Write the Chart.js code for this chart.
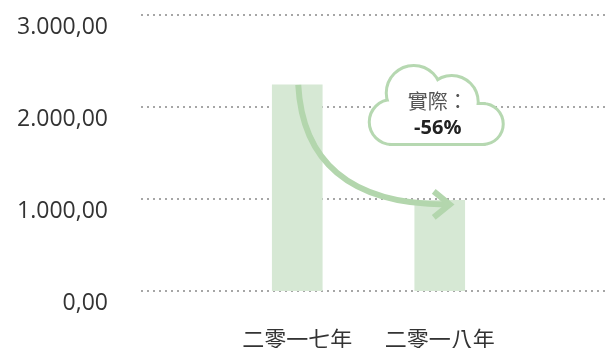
<!DOCTYPE html>
<html>
<head>
<meta charset="utf-8">
<script src="https://cdn.jsdelivr.net/npm/chart.js@4/dist/chart.umd.min.js"></script>
<style>
  html, body { margin: 0; padding: 0; background: #fff; }
  #chart { display: block; }
</style>
</head>
<body>
<canvas id="chart" width="608" height="348"></canvas>
<script>
// Data
const categories = ["二零一七年", "二零一八年"];
const values = [2240, 985];
const yTickValues = [0, 1000, 2000, 3000];
const changeTitle = "實際：";

// Styles
const BAR_COLOR = "#d6e8d4";
const ARROW_COLOR = "#b3d6ad";
const CLOUD_STROKE = "#b6d8b1";
const GRID_COLOR = "#a6a6a6";
const GRID_LEFT = 141;
const LABEL_COLOR = "#333333";

// 3000 -> "3.000,00"
function formatNumber(v) {
  const fixed = Math.abs(v).toFixed(2).split(".");
  const intPart = fixed[0].replace(/\B(?=(\d{3})+(?!\d))/g, ".");
  return (v < 0 ? "-" : "") + intPart + "," + fixed[1];
}

const changePct = Math.round((values[1] / values[0] - 1) * 100);
const changeText = (changePct > 0 ? "+" : "") + changePct + "%";

const decorations = {
  id: "decorations",
  // dotted horizontal grid, running to the right edge of the canvas
  beforeDatasetsDraw(chart) {
    const ctx = chart.ctx;
    const y = chart.scales.y;
    ctx.save();
    ctx.strokeStyle = GRID_COLOR;
    ctx.lineWidth = 2;
    ctx.setLineDash([2, 4]);
    y.ticks.forEach((t) => {
      const py = Math.round(y.getPixelForValue(t.value));
      ctx.beginPath();
      ctx.moveTo(GRID_LEFT, py);
      ctx.lineTo(chart.width, py);
      ctx.stroke();
    });
    ctx.restore();
  },
  afterDatasetsDraw(chart) {
    const ctx = chart.ctx;
    const x = chart.scales.x;
    const y = chart.scales.y;

    // curved arrow from the first bar's top to the second bar's top
    const x0 = x.getPixelForValue(0) + 1;
    const y0 = y.getPixelForValue(values[0]);
    const x1 = x.getPixelForValue(1) + 10;
    const y1 = y.getPixelForValue(values[1]) + 4;
    ctx.save();
    ctx.strokeStyle = ARROW_COLOR;
    ctx.lineWidth = 6;
    ctx.beginPath();
    ctx.moveTo(x0, y0);
    ctx.bezierCurveTo(x0 + 4, y0 + 75, x0 + 50, y1, x1 - 4, y1);
    ctx.stroke();
    ctx.beginPath();
    ctx.moveTo(x1 - 16, y1 - 13);
    ctx.lineTo(x1, y1);
    ctx.lineTo(x1 - 16, y1 + 13);
    ctx.stroke();
    ctx.restore();

    // cloud callout
    const cx = x.getPixelForValue(1);
    const cy = y.getPixelForValue(2000);
    const circles = [
      [-48, 15, 21],
      [-26, -14, 26],
      [12, -5, 25],
      [43, 17, 19],
    ];
    const shape = () => {
      ctx.beginPath();
      circles.forEach(([dx, dy, r]) => {
        ctx.moveTo(cx + dx + r, cy + dy);
        ctx.arc(cx + dx, cy + dy, r, 0, Math.PI * 2);
      });
      ctx.rect(cx - 48, cy - 2, 91, 38);
    };
    ctx.save();
    ctx.strokeStyle = CLOUD_STROKE;
    ctx.lineWidth = 6;
    shape();
    ctx.stroke();
    ctx.fillStyle = "#fff";
    shape();
    ctx.fill();

    ctx.textAlign = "center";
    ctx.textBaseline = "middle";
    ctx.fillStyle = "#555";
    ctx.font = '20px "Noto Sans CJK TC"';
    ctx.fillText(changeTitle, cx - 2, cy - 6);
    ctx.fillStyle = "#222";
    ctx.font = 'bold 20px "Open Sans"';
    ctx.fillText(changeText, cx - 2, cy + 21);
    ctx.restore();
  },
};

const ctx = document.getElementById("chart");
new Chart(ctx, {
  type: "bar",
  data: {
    labels: categories,
    datasets: [
      {
        data: values,
        backgroundColor: BAR_COLOR,
        borderWidth: 0,
        barThickness: 50,
      },
    ],
  },
  options: {
    responsive: false,
    animation: false,
    events: [],
    layout: { padding: { top: 15, left: 13, right: 97, bottom: 0 } },
    plugins: {
      legend: { display: false },
      tooltip: { enabled: false },
    },
    scales: {
      x: {
        grid: { display: false, drawTicks: false },
        border: { display: false },
        ticks: {
          color: LABEL_COLOR,
          padding: 34,
          font: { family: '"Noto Sans CJK TC"', size: 22 },
        },
        afterFit(scale) {
          scale.height = 57;
        },
      },
      y: {
        min: 0,
        max: 3000,
        grid: { display: false, drawTicks: false },
        border: { display: false },
        afterBuildTicks(scale) {
          scale.ticks = yTickValues.map((v) => ({ value: v }));
        },
        ticks: {
          color: LABEL_COLOR,
          padding: 118,
          labelOffset: 12,
          font: { family: '"Open Sans"', size: 23 },
          callback: (v) => formatNumber(v),
        },
        afterFit(scale) {
          // wide gap between labels and plot; keep it out of the vertical padding
          scale.width = 213;
          scale.paddingTop = 0;
          scale.paddingBottom = 0;
        },
      },
    },
  },
  plugins: [decorations],
});
</script>
</body>
</html>
